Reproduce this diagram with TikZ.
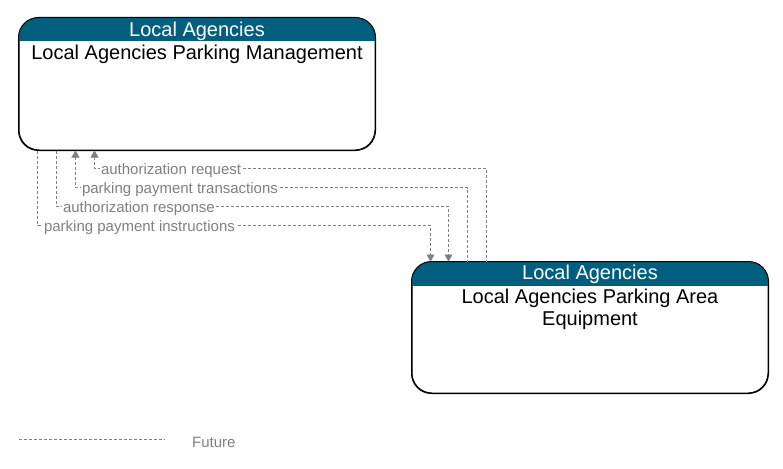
\documentclass[tikz,border=0pt]{standalone}
\usepackage{fontspec}
\setmainfont{Liberation Sans}
\usetikzlibrary{arrows.meta}
\definecolor{hdrteal}{RGB}{0,95,127}
\definecolor{flowgray}{RGB}{128,128,128}
\tikzset{
  elembox/.style={draw=black, line width=1pt, rounded corners=20pt,
    minimum width=356pt, minimum height=132pt, inner sep=0pt},
  hdrtext/.style={text=white, font=\fontsize{20}{22}\selectfont, inner sep=0pt},
  elemtext/.style={text=black, font=\fontsize{20}{22}\selectfont, align=center, inner sep=0pt},
  flow/.style={draw=flowgray, line width=1pt, dash pattern=on 3pt off 2pt},
  tipin/.style={{Triangle[length=7pt,width=8pt,fill=flowgray,line width=0.5pt,sep=0pt]}-},
  tipout/.style={-{Triangle[length=7pt,width=8pt,fill=flowgray,line width=0.5pt,sep=0pt]}},
  flowlbl/.style={text=flowgray, font=\fontsize{15}{17}\selectfont, fill=white,
    inner sep=1pt, anchor=west, xshift=5pt, yshift=-2pt},
}
\begin{document}
\begin{tikzpicture}[x=1pt, y=-1pt]
  \useasboundingbox (0,0) rectangle (783,468);

  % elements
  \node[elembox] (mgmt) at (197,84) {};
  \node[elembox, minimum height=131pt] (eqp) at (590,327.5) {};
  \foreach \b in {mgmt, eqp} {
    \begin{scope}
      \clip[rounded corners=20pt] (\b.north west) rectangle (\b.south east);
      \fill[hdrteal] (\b.north west) rectangle ([yshift=-24pt]\b.north east);
    \end{scope}
    \draw[line width=1pt, rounded corners=20pt] (\b.north west) rectangle (\b.south east);
  }
  \node[hdrtext] (mgmthdr) at ([yshift=-14pt]mgmt.north) {Local Agencies};
  \node[elemtext] (mgmtname) at ([yshift=-37pt]mgmt.north) {Local Agencies Parking Management};
  \node[hdrtext] (eqphdr) at ([yshift=-13pt]eqp.north) {Local Agencies};
  \node[elemtext] (eqpname) at ([yshift=-48pt]eqp.north)
    {Local Agencies Parking Area\\Equipment};

  % flows
  \draw[flow, tipin] ([xshift=76pt]mgmt.south west)
    |- node[flowlbl] {authorization request}
    ([xshift=75pt, yshift=93pt]eqp.north west) -- ([xshift=75pt]eqp.north west);
  \draw[flow, tipin] ([xshift=57pt]mgmt.south west)
    |- node[flowlbl] {parking payment transactions}
    ([xshift=56pt, yshift=74pt]eqp.north west) -- ([xshift=56pt]eqp.north west);
  \draw[flow, tipout] ([xshift=38pt]mgmt.south west)
    |- node[flowlbl] {authorization response}
    ([xshift=37pt, yshift=55pt]eqp.north west) -- ([xshift=37pt]eqp.north west);
  \draw[flow, tipout] ([xshift=19pt]mgmt.south west)
    |- node[flowlbl] {parking payment instructions}
    ([xshift=19pt, yshift=36pt]eqp.north west) -- ([xshift=19pt]eqp.north west);

  % legend
  \coordinate (legstart) at (19,439);
  \coordinate (legend) at (165,439);
  \draw[flow] (legstart) -- (legend);
  \node[flowlbl, fill=none, xshift=0pt, yshift=-1pt] (legtxt) at (186,439) {Future};
\end{tikzpicture}
\end{document}
